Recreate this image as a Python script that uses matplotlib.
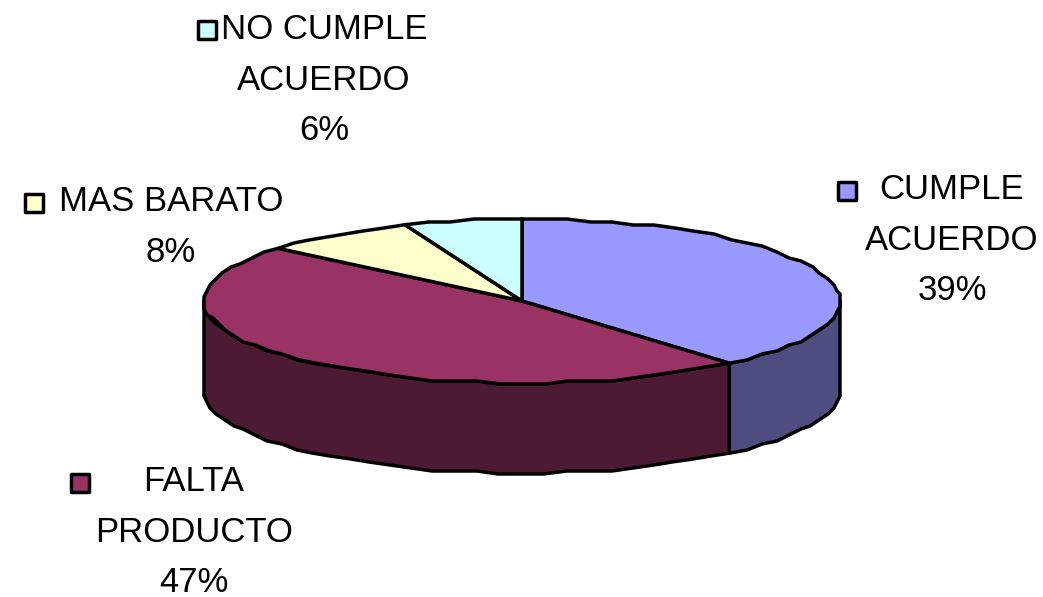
import numpy as np
import matplotlib
matplotlib.use('Agg')
import matplotlib.pyplot as plt
from matplotlib.patches import Polygon, Rectangle

labels = ['CUMPLE\nACUERDO', 'FALTA\nPRODUCTO', 'MAS BARATO', 'NO CUMPLE\nACUERDO']
values = [38.7, 47.4, 7.9, 6.0]
top_colors = ['#9999FF', '#993366', '#FFFFCC', '#CCFFFF']
side_colors = ['#4D4D80', '#4D1A33', '#808066', '#668080']

# pie geometry in pixels
cx, cy = 522, 301
rx, ry = 318, 82
depth = 90
step = 4.0
snap = 3.0  # the source is a coarse metafile, its rim is jagged

plt.rcParams['font.family'] = ['Liberation Sans', 'DejaVu Sans']

fig = plt.figure(figsize=(10.43, 5.97), dpi=100)
ax = fig.add_axes([0, 0, 1, 1])
ax.set_xlim(0, 1043)
ax.set_ylim(597, 0)
ax.axis('off')


def rim(a, b):
    n = max(int(abs(b - a) / step), 1)
    t = np.radians(np.linspace(a, b, n + 1))
    x = cx + rx * np.sin(t)
    y = cy - ry * np.cos(t)
    inner = np.arange(1, n)
    x[inner] = np.round(x[inner] / snap) * snap
    y[inner] = np.round(y[inner] / snap) * snap
    return np.column_stack([x, y])


edges = np.concatenate([[0], np.cumsum(values)]) * 3.6

# side walls, only the front half of the rim shows
for i in range(len(values)):
    a, b = max(edges[i], 90), min(edges[i + 1], 270)
    if a >= b:
        continue
    r = rim(a, b)
    wall = np.vstack([r, (r + [0, depth])[::-1]])
    ax.add_patch(Polygon(wall, closed=True, fc=side_colors[i], ec='black', lw=2.5, joinstyle='round'))

# top slices
for i in range(len(values)):
    r = rim(edges[i], edges[i + 1])
    ax.add_patch(Polygon(np.vstack([[cx, cy], r]), closed=True, fc=top_colors[i], ec='black', lw=2.5,
                         joinstyle='round'))

# label text and key squares
label_pos = [(952, 240), (194, 532), (171, 227), (324, 80)]
key_pos = [(847, 190.5), (80, 483), (33.5, 203), (207, 30)]
for i in range(len(values)):
    x, y = label_pos[i]
    ax.text(x, y, labels[i] + '\n' + str(round(values[i])) + '%', ha='center', va='center', fontsize=25,
            linespacing=1.67, color='black')
    kx, ky = key_pos[i]
    ax.add_patch(Rectangle((kx - 9, ky - 9), 18, 18, fc=top_colors[i], ec='black', lw=2.5, joinstyle='round'))

fig.savefig('out.png', dpi=100)
